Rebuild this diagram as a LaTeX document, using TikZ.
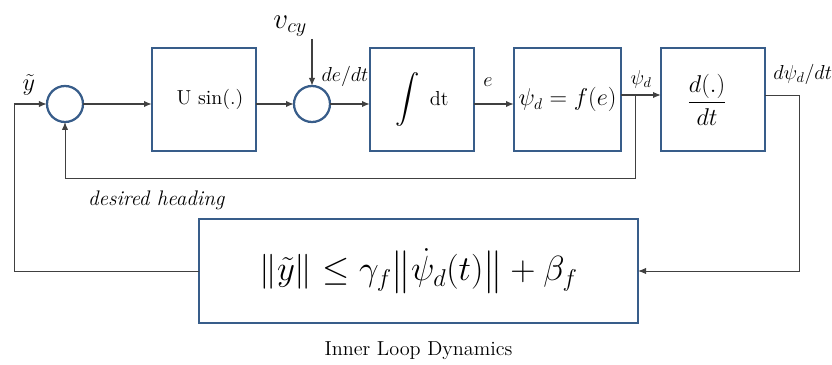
\documentclass[tikz,border=0pt]{standalone}
\usepackage{amsmath, amssymb}
\usetikzlibrary{positioning, calc, arrows.meta}

\definecolor{boxblue}{RGB}{56,93,138}
\definecolor{linegray}{RGB}{64,64,64}

\begin{document}
\begin{tikzpicture}[
  >={Latex[length=2mm, width=1.6mm]},
  block/.style  = {draw=boxblue, line width=1.6pt, rectangle, outer sep=0pt, minimum height=2.58cm, minimum width=2.6cm, font=\Large},
  sum/.style    = {draw=boxblue, line width=1.6pt, circle, outer sep=0pt, inner sep=0pt, minimum size=0.9cm},
  wire/.style   = {draw=linegray, line width=1.3pt},
  fbwire/.style = {draw=linegray, line width=0.7pt},
]
  \useasboundingbox (-1.625,2.6) rectangle (19.175,-6.525);

  \node[sum]                                      (sum1)  at (0,0) {};
  \node[block, right=1.725cm of sum1, yshift=0.11cm] (usin)  {\hspace*{0.3cm}U sin(.)};
  \node[sum,   right=0.95cm of usin, yshift=-0.11cm] (sum2)  {};
  \node[block, right=1.0cm of sum2, yshift=0.11cm]  (integ) {{\LARGE$\displaystyle\int$}\hspace{0.25cm}dt};
  \node[block, right=1.0cm of integ, font=\fontsize{16}{19}\selectfont] (fmap) {$\psi_d = f(e)$};
  \node[block, right=1.0cm of fmap, font=\LARGE]    (deriv) {$\dfrac{d(.)}{dt}$\hspace*{0.3cm}};
  \node[block, minimum width=10.975cm, minimum height=2.6cm, font=\fontsize{24.5}{29}\selectfont] (bound) at (8.84,-4.175)
    {$\|\tilde{y}\| \leq \gamma_f \bigl\|\dot{\psi}_d(t)\bigr\| + \beta_f$};

  \coordinate[left=0.825cm of sum1]  (yin);
  \coordinate[above=1.175cm of sum2] (vin);
  \coordinate (psiout) at ([yshift=0.115cm]fmap.east);
  \coordinate (dout)   at ([yshift=0.115cm]deriv.east);
  \coordinate (fb)     at ($(psiout)!0.35!(psiout -| deriv.west)$);

  \draw[wire, ->] (yin) -- node[above=2pt, pos=0.45, font=\LARGE] (ylbl) {$\tilde{y}$} (sum1);
  \draw[wire, ->] (sum1) -- (sum1 -| usin.west);
  \draw[wire, ->] (usin.east |- sum2) -- (sum2);
  \draw[wire, ->] (vin) -- (sum2);
  \node[font=\fontsize{21}{25}\selectfont, inner sep=0pt, anchor=south east] (vlbl) at ([xshift=-0.12cm, yshift=0.05cm]vin) {$v_{cy}$};
  \draw[wire, ->] (sum2) -- node[above=0.3cm, pos=0.375, font=\Large] (delbl) {$de/dt$} (sum2 -| integ.west);
  \draw[wire, ->] (integ.east |- sum2) -- node[above=0.3cm, pos=0.35, font=\Large] (elbl) {$e$} (fmap.west |- sum2);
  \draw[wire, ->] (psiout) -- node[above=1pt, font=\Large] (psilbl) {$\psi_d$} (psiout -| deriv.west);

  % feedback of the desired heading
  \draw[fbwire, ->] (fb) -- ++(0,-2.075) -| node[pos=0.42, below=0.2cm, font=\fontsize{15}{18}\selectfont\itshape] (hlbl) {desired heading} (sum1.south);

  % outer loop through the bound
  \draw[fbwire, ->] (dout) -- ++(0.85,0) |- (bound.east);
  \node[font=\Large, inner sep=0pt, anchor=south west] (dlbl) at ([xshift=0.2cm, yshift=0.25cm]dout) {$d\psi_d/dt$};
  \draw[fbwire] (bound.west) -| (yin);

  \node[below=0.35cm of bound, font=\Large] (title) {Inner Loop Dynamics};
\end{tikzpicture}
\end{document}
